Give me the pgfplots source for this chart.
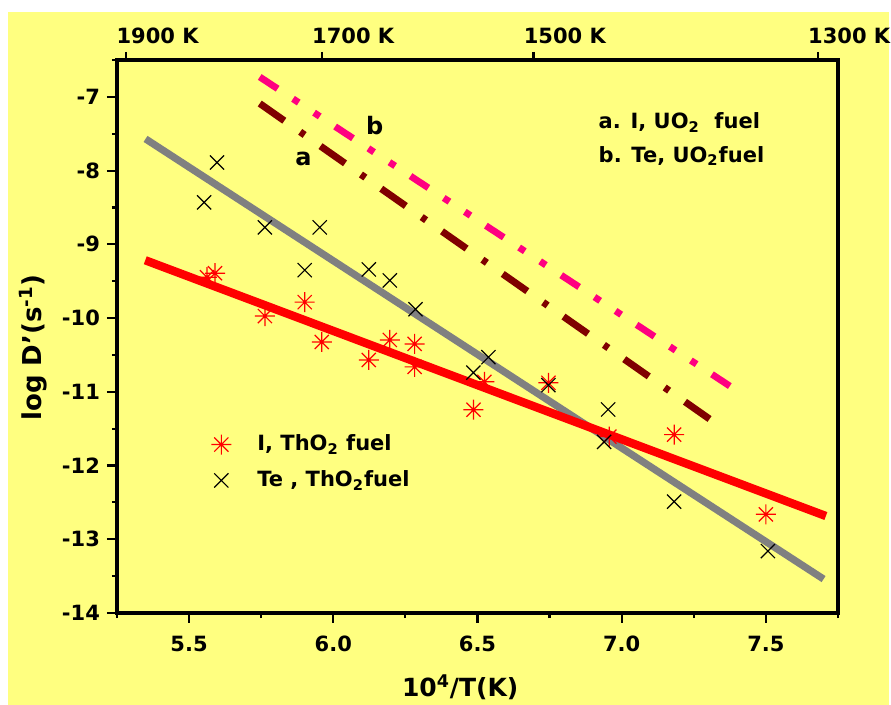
\documentclass[border=0pt]{standalone}
\usepackage{fontspec}
\setmainfont{DejaVu Sans}
\usepackage{pgfplots}
\pgfplotsset{compat=1.18}
\definecolor{bgyellow}{RGB}{255,255,128}
\definecolor{linegrey}{RGB}{128,128,128}
\definecolor{linepink}{RGB}{255,0,128}
\definecolor{linebrown}{RGB}{128,0,0}
% eight-spoke asterisk as in the original
\pgfdeclareplotmark{ast8}{%
  \pgfpathmoveto{\pgfqpoint{0pt}{\pgfplotmarksize}}\pgfpathlineto{\pgfqpoint{0pt}{-\pgfplotmarksize}}%
  \pgfpathmoveto{\pgfqpoint{\pgfplotmarksize}{0pt}}\pgfpathlineto{\pgfqpoint{-\pgfplotmarksize}{0pt}}%
  \pgfpathmoveto{\pgfqpoint{0.707\pgfplotmarksize}{0.707\pgfplotmarksize}}\pgfpathlineto{\pgfqpoint{-0.707\pgfplotmarksize}{-0.707\pgfplotmarksize}}%
  \pgfpathmoveto{\pgfqpoint{-0.707\pgfplotmarksize}{0.707\pgfplotmarksize}}\pgfpathlineto{\pgfqpoint{0.707\pgfplotmarksize}{-0.707\pgfplotmarksize}}%
  \pgfusepathqstroke}
\newcommand{\tfont}{\bfseries\fontsize{10.5}{12}\selectfont}

\begin{document}
\begin{tikzpicture}
\fill[bgyellow] (-54.5pt,-46pt) rectangle (386pt,300.5pt);
\useasboundingbox (-58.5pt,-46pt) rectangle (387pt,306.5pt);
\begin{axis}[
  scale only axis, width=360.5pt, height=276.5pt,
  xmin=5.25, xmax=7.75, ymin=-14, ymax=-6.5,
  axis line style={line width=1.6pt},
  tick align=outside, xtick pos=left, ytick pos=left,
  major tick length=5pt, minor tick length=2.6pt,
  every tick/.style={black, line width=1.1pt},
  xtick={5.5,6.0,6.5,7.0,7.5}, xticklabels={5.5,6.0,6.5,7.0,7.5},
  minor xtick={5.25,5.75,6.25,6.75,7.25,7.75},
  ytick={-14,-13,...,-7}, yticklabels={-14,-13,-12,-11,-10,-9,-8,-7},
  minor ytick={-13.5,-12.5,...,-6.5},
  tick label style={font=\tfont},
  xticklabel style={yshift=-3pt},
  xlabel={10\textsuperscript{4}/T(K)},
  ylabel={log D'(s\textsuperscript{-1})},
  xlabel style={at={(axis description cs:0.476,-0.134)}, anchor=center, font=\bfseries\fontsize{12.5}{14}\selectfont},
  ylabel style={at={(axis description cs:-0.1165,0.48)}, anchor=center, font=\bfseries\fontsize{13}{15}\selectfont},
  legend style={draw=none, fill=none, at={(0.122,0.337)}, anchor=north west, font=\tfont,
    row sep=4.5pt, /tikz/every odd column/.append style={column sep=11pt}},
  legend cell align=left,
]
\addplot[only marks, mark=ast8, mark size=5pt, red, mark options={line width=0.6pt}] coordinates {
(5.562,-9.446) (5.590,-9.392) (5.763,-9.973) (5.901,-9.784) (5.960,-10.324)
(6.123,-10.568) (6.196,-10.297) (6.282,-10.351) (6.282,-10.662) (6.486,-11.243)
(6.524,-10.865) (6.746,-10.878) (6.957,-11.608) (7.182,-11.581) (7.500,-12.662)};
\addlegendentry{I, ThO\textsubscript{2} fuel}
\addplot[only marks, mark=x, mark size=5pt, black, mark options={line width=0.6pt}] coordinates {
(5.597,-7.89) (5.552,-8.43) (5.763,-8.77) (5.953,-8.77) (5.901,-9.35)
(6.123,-9.34) (6.196,-9.49) (6.285,-9.88) (6.486,-10.74) (6.538,-10.53)
(6.746,-10.91) (6.953,-11.24) (6.939,-11.68) (7.182,-12.49) (7.507,-13.16)};
\addlegendentry{Te , ThO\textsubscript{2}fuel}
% fitted lines
\addplot[forget plot, linegrey, line width=3.6pt] coordinates {(5.349,-7.57) (7.70,-13.54)};
\addplot[forget plot, red, line width=4.2pt] coordinates {(5.348,-9.216) (7.708,-12.685)};
% UO2 fuel lines
\addplot[forget plot, linepink, line width=3.4pt, line cap=butt,
  dash pattern=on 10.7pt off 9.2pt on 3.4pt off 9.2pt on 3.4pt off 9.2pt] coordinates {(5.745,-6.73) (7.378,-10.93)};
\addplot[forget plot, linebrown, line width=3.5pt, line cap=butt,
  dash pattern=on 15pt off 9.7pt on 2.7pt off 9.7pt] coordinates {(5.745,-7.09) (7.356,-11.51)};
\node[font=\bfseries\fontsize{12}{14}\selectfont] at (axis cs:6.144,-7.39) {b};
\node[font=\bfseries\fontsize{12}{14}\selectfont] at (axis cs:5.897,-7.84) {a};
\node[font=\tfont, anchor=west, inner sep=0pt] at (axis cs:6.919,-7.35) {a. I, UO\textsubscript{2}\ \ fuel};
\node[font=\tfont, anchor=west, inner sep=0pt] at (axis cs:6.919,-7.80) {b. Te, UO\textsubscript{2}fuel};
\end{axis}
\begin{axis}[
  scale only axis, width=360.5pt, height=276.5pt,
  xmin=5.25, xmax=7.75, ymin=0, ymax=1,
  axis x line*=top, axis y line=none,
  axis line style={line width=1.7pt},
  tick align=outside, major tick length=4pt,
  every tick/.style={black, line width=1.1pt},
  xtick={5.282,5.960,6.694,7.680}, xticklabels={1900 K,1700 K,1500 K,1300 K},
  xticklabel style={font=\tfont, anchor=south west, xshift=-5pt, yshift=4pt, inner sep=0pt},
]
\end{axis}
\end{tikzpicture}
\end{document}
